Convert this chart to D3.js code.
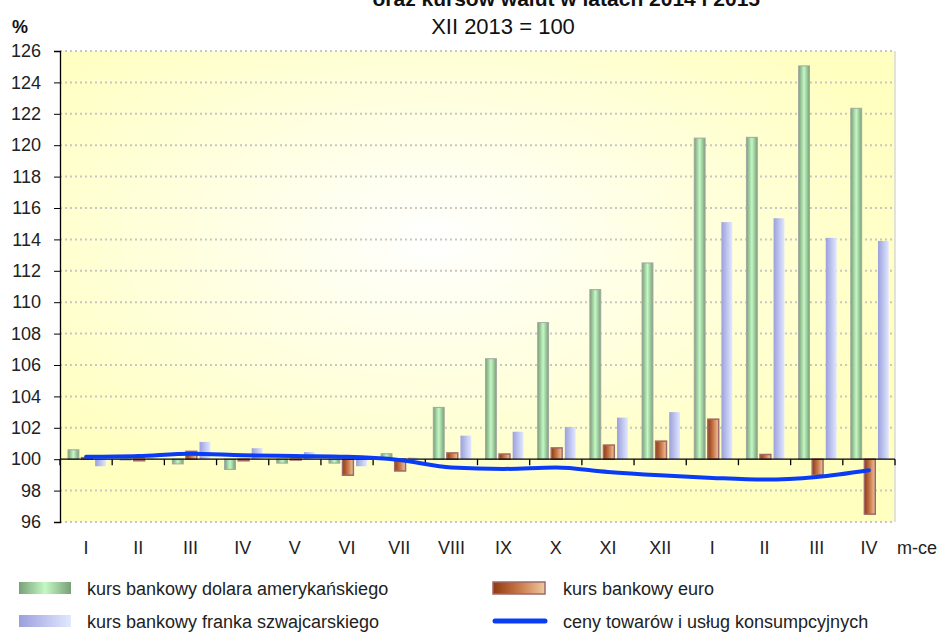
<!DOCTYPE html>
<html>
<head>
<meta charset="utf-8">
<script src="https://cdn.jsdelivr.net/npm/d3@7"></script>
<style>
  body { margin: 0; background: #fff; }
  svg { display: block; font-family: "Liberation Sans", Arial, sans-serif; }
</style>
</head>
<body>
<div id="chart"></div>
<script>
// month labels (2014: I-XII, 2015: I-IV)
const months = ["I", "II", "III", "IV", "V", "VI", "VII", "VIII", "IX", "X", "XI", "XII", "I", "II", "III", "IV"];
const dollar = [100.6, 99.95, 99.7, 99.35, 99.75, 99.75, 100.35, 103.3, 106.4, 108.7, 110.8, 112.5, 120.45, 120.5, 125.05, 122.35];
const euro = [100.1, 99.9, 100.5, 99.9, 99.95, 98.98, 99.25, 100.4, 100.33, 100.72, 100.9, 101.15, 102.55, 100.3, 99.0, 96.5];
const franc = [99.55, 100.05, 101.1, 100.7, 100.45, 99.55, 100.1, 101.5, 101.75, 102.05, 102.65, 103.0, 115.1, 115.35, 114.1, 113.9];
const cpi = [100.15, 100.2, 100.35, 100.25, 100.2, 100.15, 99.95, 99.47, 99.38, 99.47, 99.19, 98.98, 98.81, 98.7, 98.87, 99.3];
const yTicks = d3.range(96, 127, 2);

const seriesNames = ["dollar", "euro", "franc"];
const seriesData = { dollar: dollar, euro: euro, franc: franc };
const legendLabels = {
    dollar: "kurs bankowy dolara amerykańskiego",
    euro: "kurs bankowy euro",
    franc: "kurs bankowy franka szwajcarskiego",
    cpi: "ceny towarów i usług konsumpcyjnych"
};

const W = 944, H = 632;
const plotL = 60, plotR = 895, plotT = 51, plotB = 522;

const svg = d3.select("#chart").append("svg")
    .attr("width", W).attr("height", H);

const defs = svg.append("defs");

// plot background
const bg = defs.append("radialGradient").attr("id", "bg")
    .attr("cx", "45%").attr("cy", "40%").attr("r", "60%");
bg.append("stop").attr("offset", "0%").attr("stop-color", "#ffffff");
bg.append("stop").attr("offset", "100%").attr("stop-color", "#ffffc0");

function hGrad(id, stops) {
    const g = defs.append("linearGradient").attr("id", id)
        .attr("x1", "0%").attr("x2", "100%").attr("y1", "0%").attr("y2", "0%");
    stops.forEach(s => g.append("stop").attr("offset", s[0]).attr("stop-color", s[1]));
}
hGrad("gDollar", [["0%", "#78a078"], ["50%", "#c4f8c4"], ["100%", "#78a078"]]);
hGrad("gEuro", [["0%", "#903810"], ["50%", "#c87848"], ["100%", "#f0c8a0"]]);
hGrad("gFranc", [["0%", "#9aa0dc"], ["100%", "#e2e8ff"]]);

const fills = { dollar: "url(#gDollar)", euro: "url(#gEuro)", franc: "url(#gFranc)" };
const strokes = { dollar: "#a0a8a0", euro: "#a06868", franc: "none" };

// scales
const x = d3.scaleBand()
    .domain(d3.range(months.length))
    .range([plotL, plotR]);

const xs = d3.scaleBand()
    .domain(seriesNames)
    .range([8, 46])
    .paddingInner(0.2);

const y = d3.scaleLinear()
    .domain([96, 126])
    .range([plotB, plotT]);

svg.append("rect")
    .attr("x", plotL).attr("y", plotT)
    .attr("width", plotR - plotL).attr("height", plotB - plotT)
    .attr("fill", "url(#bg)");

// right border
svg.append("line")
    .attr("x1", plotR).attr("x2", plotR).attr("y1", plotT).attr("y2", plotB)
    .attr("stroke", "#d8d8d8").attr("stroke-width", 1.5);

// dotted gridlines
svg.append("g")
    .selectAll("line")
    .data(yTicks.filter(d => d !== 100))
    .enter().append("line")
    .attr("x1", plotL).attr("x2", plotR)
    .attr("y1", d => y(d)).attr("y2", d => y(d))
    .attr("stroke", "#c8c8c0")
    .attr("stroke-width", 2)
    .attr("stroke-dasharray", "2,3");

// bars
seriesNames.forEach(name => {
    svg.append("g")
        .selectAll("rect")
        .data(seriesData[name])
        .enter().append("rect")
        .attr("x", (d, i) => x(i) + xs(name))
        .attr("width", xs.bandwidth())
        .attr("y", d => y(Math.max(d, 100)))
        .attr("height", d => Math.abs(y(d) - y(100)))
        .attr("fill", fills[name])
        .attr("stroke", strokes[name])
        .attr("stroke-width", name === "euro" ? 1.5 : 1);
});

// y axis
svg.append("g")
    .attr("transform", `translate(${plotL},0)`)
    .call(d3.axisLeft(y).tickValues(yTicks).tickSize(6).tickPadding(13))
    .call(g => g.select(".domain").attr("stroke", "#000").attr("stroke-width", 1.3))
    .call(g => g.selectAll(".tick line").attr("stroke", "#000"))
    .call(g => g.selectAll("text").attr("font-size", 18).attr("fill", "#222")
        .attr("font-family", "Liberation Sans, Arial, sans-serif"));

// x axis on the 100 line, ticks between months
svg.append("line")
    .attr("x1", plotL).attr("x2", plotR)
    .attr("y1", y(100)).attr("y2", y(100))
    .attr("stroke", "#000").attr("stroke-width", 1.3);

svg.append("g")
    .selectAll("line")
    .data(d3.range(months.length + 1))
    .enter().append("line")
    .attr("x1", i => i < months.length ? x(i) : plotR)
    .attr("x2", i => i < months.length ? x(i) : plotR)
    .attr("y1", y(100)).attr("y2", y(100) + 6)
    .attr("stroke", "#000").attr("stroke-width", 1.3);

svg.append("g")
    .selectAll("text")
    .data(months)
    .enter().append("text")
    .attr("x", (d, i) => x(i) + x.bandwidth() / 2)
    .attr("y", 554)
    .attr("text-anchor", "middle")
    .attr("font-size", 18)
    .attr("fill", "#222")
    .text(d => d);

svg.append("text")
    .attr("x", 897).attr("y", 554)
    .attr("font-size", 18).attr("fill", "#222")
    .text("m-ce");

// CPI line
const line = d3.line()
    .x((d, i) => x(i) + x.bandwidth() / 2)
    .y(d => y(d))
    .curve(d3.curveMonotoneX);

svg.append("path")
    .datum(cpi)
    .attr("fill", "none")
    .attr("stroke", "#0a3cf5")
    .attr("stroke-width", 4)
    .attr("stroke-linecap", "round")
    .attr("d", line);

// titles
svg.append("text")
    .attr("x", 760).attr("y", 6)
    .attr("text-anchor", "end")
    .attr("font-size", 21).attr("font-weight", "bold").attr("fill", "#111")
    .text("oraz kursów walut w latach 2014 i 2015");

svg.append("text")
    .attr("x", 503).attr("y", 34)
    .attr("text-anchor", "middle")
    .attr("font-size", 22).attr("fill", "#111")
    .text("XII 2013 = 100");

svg.append("text")
    .attr("x", 12).attr("y", 33)
    .attr("font-size", 18).attr("font-weight", "bold").attr("fill", "#111")
    .text("%");

// legend
const legend = [
    { key: "dollar", x: 19, y: 589 },
    { key: "euro", x: 493, y: 589 },
    { key: "franc", x: 19, y: 622 },
    { key: "cpi", x: 493, y: 622 }
];

const lg = svg.append("g");
legend.forEach(d => {
    if (d.key === "cpi") {
        lg.append("line")
            .attr("x1", d.x + 2).attr("x2", d.x + 52)
            .attr("y1", d.y - 1).attr("y2", d.y - 1)
            .attr("stroke", "#0a3cf5").attr("stroke-width", 5)
            .attr("stroke-linecap", "round");
    } else {
        lg.append("rect")
            .attr("x", d.x).attr("y", d.y - 7)
            .attr("width", 52).attr("height", 12)
            .attr("fill", fills[d.key])
            .attr("stroke", d.key === "euro" ? "#a06868" : "none")
            .attr("stroke-width", 1.5);
    }
    lg.append("text")
        .attr("x", d.x + (d.key === "dollar" || d.key === "franc" ? 68 : 70))
        .attr("y", d.y + 6)
        .attr("font-size", 18).attr("fill", "#222")
        .text(legendLabels[d.key]);
});
</script>
</body>
</html>
